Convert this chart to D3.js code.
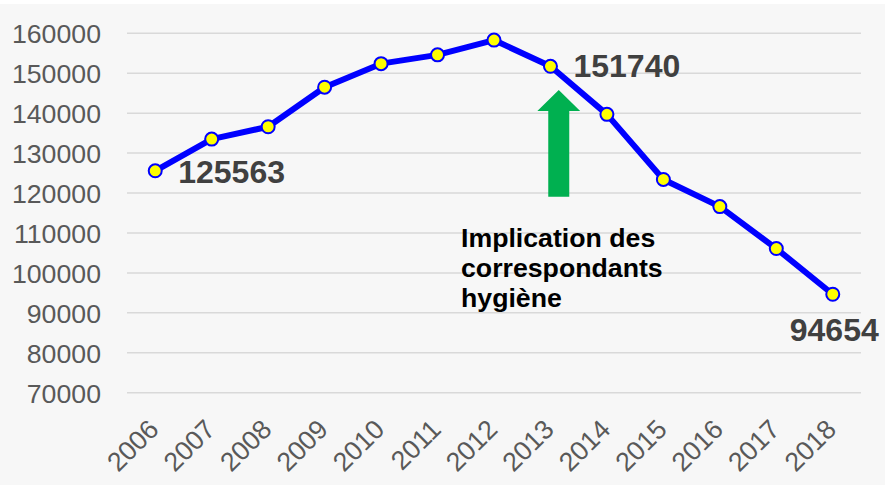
<!DOCTYPE html>
<html>
<head>
<meta charset="utf-8">
<script src="https://cdn.jsdelivr.net/npm/d3@7"></script>
<style>
  html, body { margin: 0; padding: 0; background: #ffffff; }
  svg { display: block; }
</style>
</head>
<body>
<svg id="chart" width="885" height="487"></svg>
<script>
const years = ["2006","2007","2008","2009","2010","2011","2012","2013","2014","2015","2016","2017","2018"];
const values = [125563, 133500, 136600, 146500, 152400, 154600, 158300, 151740, 139700, 123400, 116600, 106100, 94654];
const yTicks = [70000, 80000, 90000, 100000, 110000, 120000, 130000, 140000, 150000, 160000];
const labeledYears = ["2006", "2013", "2018"];
const annotationLines = ["Implication des", "correspondants", "hygiène"];

const W = 885, H = 487;
const svg = d3.select("#chart");
const font = "'Liberation Sans', Arial, Helvetica, sans-serif";

svg.append("rect").attr("x", 0).attr("y", 4).attr("width", W).attr("height", H - 6).attr("fill", "#f7f7f7");

const x = d3.scaleBand().domain(years).range([127, 861]);
const y = d3.scaleLinear().domain([70000, 160000]).range([392.7, 33.3]);
const cx = d => x(d) + x.bandwidth() / 2;

// gridlines
svg.append("g").selectAll("line").data(yTicks).join("line")
  .attr("x1", 127).attr("x2", 861)
  .attr("y1", d => y(d)).attr("y2", d => y(d))
  .attr("stroke", "#d9d9d9").attr("stroke-width", 1.5);

// y axis
const yAxis = d3.axisLeft(y).tickValues(yTicks).tickSize(0).tickPadding(0).tickFormat(d3.format("d"));
const gy = svg.append("g").attr("transform", "translate(101,0)").call(yAxis);
gy.select(".domain").remove();
gy.selectAll("text").attr("font-family", font).attr("font-size", 26.7).attr("fill", "#595959").attr("dy", "0.36em");

// x axis labels
const xAxis = d3.axisBottom(x).tickSize(0).tickPadding(0);
const gx = svg.append("g").attr("transform", "translate(0,0)").call(xAxis);
gx.select(".domain").remove();
gx.selectAll(".tick").attr("transform", d => `translate(${cx(d)},0)`);
gx.selectAll("text")
  .attr("font-family", font).attr("font-size", 26.7).attr("fill", "#595959")
  .attr("text-anchor", "end").attr("dy", 0).attr("y", 0)
  .attr("transform", "translate(5,431) rotate(-45)");

// arrow annotation (anchored on 2013)
const ax = cx("2013") + 8.3;
const tipY = 90, headBase = 111, shaftBottom = 196.7;
const arrow = d3.path();
arrow.moveTo(ax, tipY);
arrow.lineTo(ax + 21.4, headBase);
arrow.lineTo(ax + 10.5, headBase);
arrow.lineTo(ax + 10.5, shaftBottom);
arrow.lineTo(ax - 10.5, shaftBottom);
arrow.lineTo(ax - 10.5, headBase);
arrow.lineTo(ax - 21.4, headBase);
arrow.closePath();
svg.append("path").attr("d", arrow.toString()).attr("fill", "#00b050");

// line
const data = years.map((yr, i) => ({ yr, v: values[i] }));
svg.append("path").datum(data)
  .attr("d", d3.line().x(d => cx(d.yr)).y(d => y(d.v)))
  .attr("fill", "none").attr("stroke", "#0000ff").attr("stroke-width", 6)
  .attr("stroke-linejoin", "round");

svg.append("g").selectAll("circle").data(data).join("circle")
  .attr("cx", d => cx(d.yr)).attr("cy", d => y(d.v)).attr("r", 6.5)
  .attr("fill", "#ffff00").attr("stroke", "#0000ff").attr("stroke-width", 2);

// data labels
const labelOffsets = { "2006": [23, 12], "2013": [23, 11], "2018": [-43, 47] };
svg.append("g").selectAll("text").data(data.filter(d => labeledYears.includes(d.yr))).join("text")
  .attr("x", d => cx(d.yr) + labelOffsets[d.yr][0])
  .attr("y", d => y(d.v) + labelOffsets[d.yr][1])
  .attr("font-family", font).attr("font-size", 32).attr("font-weight", "bold").attr("fill", "#404040")
  .text(d => d3.format("d")(d.v));

// annotation text
svg.append("g").selectAll("text").data(annotationLines).join("text")
  .attr("x", 461).attr("y", (d, i) => 246.5 + i * 30)
  .attr("font-family", font).attr("font-size", 26.7).attr("font-weight", "bold").attr("fill", "#000000")
  .text(d => d);
</script>
</body>
</html>
